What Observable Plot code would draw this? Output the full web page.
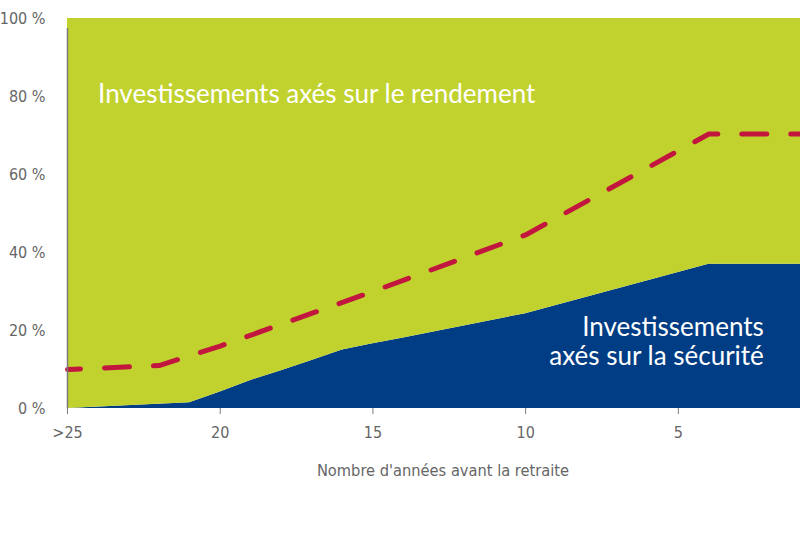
<!DOCTYPE html>
<html>
<head>
<meta charset="utf-8">
<script src="https://cdn.jsdelivr.net/npm/d3@7"></script>
<script src="https://cdn.jsdelivr.net/npm/@observablehq/plot@0.6"></script>
<style>
  html, body { margin: 0; padding: 0; background: #fff; }
  #chart { width: 800px; height: 550px; }
</style>
</head>
<body>
<div id="chart"></div>
<script>
// Years before retirement and share (%) of security-oriented investments
const years = [25, 21, 20, 19, 18, 17, 16, 15, 14, 10, 4, 1];
const security = [0, 1.5, 4.2, 7.2, 9.7, 12.3, 15, 16.6, 18.1, 24.3, 37, 37];

// Dashed reference line
const lineYears = [25, 22, 20, 15, 10, 4, 1];
const lineValues = [10, 11, 16, 30, 44.5, 70.4, 70.4];

const xTicks = [25, 20, 15, 10, 5];
const xTickLabels = [">25", "20", "15", "10", "5"];
const yTicks = [0, 20, 40, 60, 80, 100];

const seriesNames = ["Investissements axés sur la sécurité", "Investissements axés sur le rendement"];
const seriesColors = ["#013d84", "#c1d22f"];

const labelGrowth = [{text: "Investissements axés sur le rendement", x: 24, y: 80.5}];
const labelSecurity = [{text: "Investissements\naxés sur la sécurité", x: 2.2, y: 17.3}];
const axisLabel = "Nombre d'années avant la retraite";

const table = [];
years.forEach((yr, i) => {
  table.push({year: yr, type: seriesNames[0], value: security[i]});
  table.push({year: yr, type: seriesNames[1], value: 100 - security[i]});
});
const lineData = lineYears.map((yr, i) => ({year: yr, value: lineValues[i]}));

const tickFont = "'DejaVu Sans Condensed', 'Liberation Sans Narrow', sans-serif";
const labelFont = "Lato, 'Open Sans', sans-serif";

const chart = Plot.plot({
  width: 800,
  height: 550,
  marginLeft: 67,
  marginRight: 0,
  marginTop: 18,
  marginBottom: 142,
  style: {fontFamily: tickFont, fontSize: "16px", color: "#666", background: "#fff", overflow: "visible"},
  x: {domain: [25, 1], label: null},
  y: {domain: [0, 100], label: null},
  color: {domain: seriesNames, range: seriesColors},
  marks: [
    Plot.areaY(table, {x: "year", y: "value", fill: "type", order: seriesNames, curve: "linear"}),
    Plot.lineY(lineData, {x: "year", y: "value", stroke: "#c2163f", strokeWidth: 5, strokeDasharray: "25 24", strokeDashoffset: 12}),
    Plot.ruleX([25], {y1: 0, y2: 100, stroke: "#7a7a7a", strokeWidth: 1.5, insetBottom: -10}),
    Plot.axisX({ticks: xTicks, tickFormat: (d) => xTickLabels[xTicks.indexOf(d)], tickSize: 6, tickPadding: 12, stroke: "#7a7a7a", fill: "#666", fontSize: 16, fontFamily: tickFont, label: null}),
    Plot.axisY({ticks: yTicks, tickFormat: (d) => d + " %", tickSize: 0, tickPadding: 22, fill: "#666", fontSize: 16, fontFamily: tickFont, label: null}),
    Plot.text(labelGrowth, {x: "x", y: "y", text: "text", textAnchor: "start", fill: "white", fontSize: 26, fontFamily: labelFont}),
    Plot.text(labelSecurity, {x: "x", y: "y", text: "text", textAnchor: "end", fill: "white", fontSize: 26, fontFamily: labelFont, lineHeight: 1.12}),
    Plot.text([axisLabel], {frameAnchor: "bottom", text: (d) => d, dx: 9, dy: 62, fill: "#666", fontSize: 16.3, fontFamily: tickFont, lineAnchor: "middle"})
  ]
});
document.getElementById("chart").appendChild(chart);
</script>
</body>
</html>
